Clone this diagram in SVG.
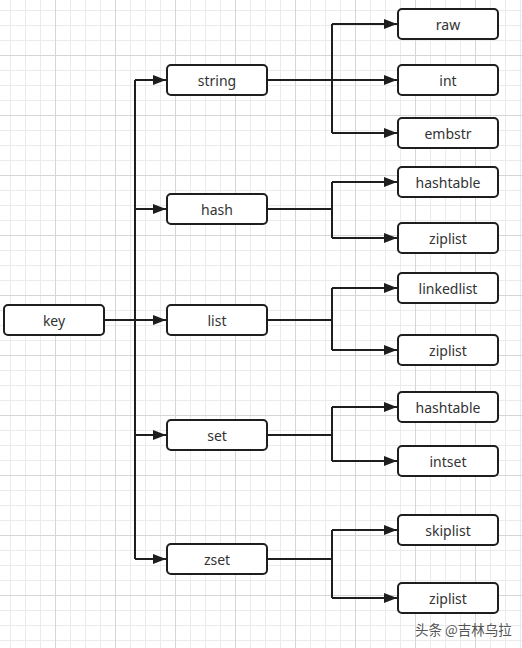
<svg xmlns="http://www.w3.org/2000/svg" width="522" height="648" viewBox="0 0 522 648">
<style>
.box{fill:#ffffff;stroke:#1e1e1e;stroke-width:2}
.lbl{font-family:"Noto Sans","Open Sans","Liberation Sans",sans-serif;font-size:14px;fill:#333333;text-anchor:middle;dominant-baseline:central}
.ln{fill:none;stroke:#1e1e1e;stroke-width:2}
.arr{fill:none;stroke:#1e1e1e;stroke-width:2;marker-end:url(#ah)}
.wm{font-family:"Noto Sans CJK SC","Noto Sans",sans-serif;font-size:13.5px;fill:#555555}
</style>
<defs>
<pattern id="grid" patternUnits="userSpaceOnUse" x="-5" y="-5" width="60" height="60">
<path d="M15.5 0V60M30.5 0V60M45.5 0V60M0 15.5H60M0 30.5H60M0 45.5H60" stroke="#ebebeb" stroke-width="1" fill="none"/>
<path d="M0.5 0V60M0 0.5H60" stroke="#d6d6d6" stroke-width="1" fill="none"/>
</pattern>
<marker id="ah" markerUnits="userSpaceOnUse" viewBox="0 0 13 10" refX="13" refY="5" markerWidth="13" markerHeight="10" orient="auto">
<path d="M0 0L13 5L0 10z" fill="#1e1e1e"/>
</marker>
</defs>
<rect width="522" height="648" fill="#ffffff"/>
<rect width="522" height="648" fill="url(#grid)"/>
<g id="connectors">
<path class="ln" d="M104 320H135M135 80V559"/>
<path class="arr" d="M135 80H166"/>
<path class="arr" d="M135 209H166"/>
<path class="arr" d="M135 320H166"/>
<path class="arr" d="M135 435H166"/>
<path class="arr" d="M135 559H166"/>
<path class="ln" d="M267 80H332M332 24V133"/>
<path class="arr" d="M332 24H397"/>
<path class="arr" d="M332 80H397"/>
<path class="arr" d="M332 133H397"/>
<path class="ln" d="M267 209H332M332 182V238"/>
<path class="arr" d="M332 182H397"/>
<path class="arr" d="M332 238H397"/>
<path class="ln" d="M267 320H332M332 288V350"/>
<path class="arr" d="M332 288H397"/>
<path class="arr" d="M332 350H397"/>
<path class="ln" d="M267 435H332M332 407V461"/>
<path class="arr" d="M332 407H397"/>
<path class="arr" d="M332 461H397"/>
<path class="ln" d="M267 559H332M332 530V598"/>
<path class="arr" d="M332 530H397"/>
<path class="arr" d="M332 598H397"/>
</g>
<g id="key"><rect class="box" x="4" y="305" width="100" height="30" rx="4"/><text class="lbl" x="54" y="320">key</text></g>
<g id="string"><rect class="box" x="167" y="65" width="100" height="30" rx="4"/><text class="lbl" x="217" y="80">string</text></g>
<g id="hash"><rect class="box" x="167" y="194" width="100" height="30" rx="4"/><text class="lbl" x="217" y="209">hash</text></g>
<g id="list"><rect class="box" x="167" y="305" width="100" height="30" rx="4"/><text class="lbl" x="217" y="320">list</text></g>
<g id="set"><rect class="box" x="167" y="420" width="100" height="30" rx="4"/><text class="lbl" x="217" y="435">set</text></g>
<g id="zset"><rect class="box" x="167" y="544" width="100" height="30" rx="4"/><text class="lbl" x="217" y="559">zset</text></g>
<g id="raw"><rect class="box" x="398" y="9" width="100" height="30" rx="4"/><text class="lbl" x="448" y="24">raw</text></g>
<g id="int"><rect class="box" x="398" y="65" width="100" height="30" rx="4"/><text class="lbl" x="448" y="80">int</text></g>
<g id="embstr"><rect class="box" x="398" y="118" width="100" height="30" rx="4"/><text class="lbl" x="448" y="133">embstr</text></g>
<g id="hashtable1"><rect class="box" x="398" y="167" width="100" height="30" rx="4"/><text class="lbl" x="448" y="182">hashtable</text></g>
<g id="ziplist1"><rect class="box" x="398" y="223" width="100" height="30" rx="4"/><text class="lbl" x="448" y="238">ziplist</text></g>
<g id="linkedlist"><rect class="box" x="398" y="273" width="100" height="30" rx="4"/><text class="lbl" x="448" y="288">linkedlist</text></g>
<g id="ziplist2"><rect class="box" x="398" y="335" width="100" height="30" rx="4"/><text class="lbl" x="448" y="350">ziplist</text></g>
<g id="hashtable2"><rect class="box" x="398" y="392" width="100" height="30" rx="4"/><text class="lbl" x="448" y="407">hashtable</text></g>
<g id="intset"><rect class="box" x="398" y="446" width="100" height="30" rx="4"/><text class="lbl" x="448" y="461">intset</text></g>
<g id="skiplist"><rect class="box" x="398" y="515" width="100" height="30" rx="4"/><text class="lbl" x="448" y="530">skiplist</text></g>
<g id="ziplist3"><rect class="box" x="398" y="583" width="100" height="30" rx="4"/><text class="lbl" x="448" y="598">ziplist</text></g>
<text class="wm" x="415" y="635">头条 @吉林乌拉</text>
</svg>
